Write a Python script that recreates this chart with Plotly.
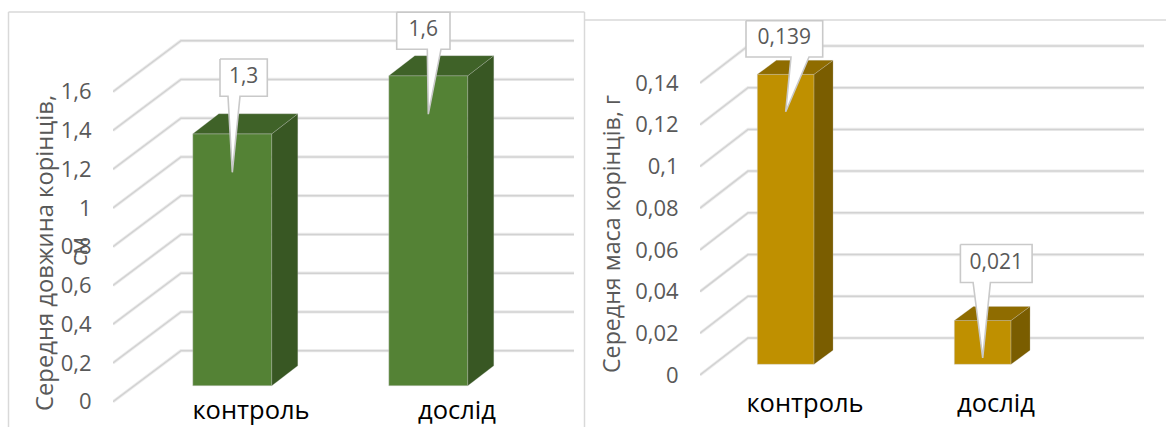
import plotly.graph_objects as go

WIDTH, HEIGHT = 1166, 427

# --- chart values ---
categories_left = ["контроль", "дослід"]
length_values = [1.3, 1.6]
length_labels = ["1,3", "1,6"]
length_ticks = [0, 0.2, 0.4, 0.6, 0.8, 1, 1.2, 1.4, 1.6]
length_ticktext = ["0", "0,2", "0,4", "0,6", "0,8", "1", "1,2", "1,4", "1,6"]

categories_right = ["контроль", "дослід"]
mass_values = [0.139, 0.021]
mass_labels = ["0,139", "0,021"]
mass_ticks = [0, 0.02, 0.04, 0.06, 0.08, 0.1, 0.12, 0.14]
mass_ticktext = ["0", "0,02", "0,04", "0,06", "0,08", "0,1", "0,12", "0,14"]

GREY = "#595959"
FONT = "Open Sans"

# Panel geometry in pixels. Every panel: a value axis whose zero sits at y0,
# a floor receding by (wall_dx, wall_dy), and bars standing part way into it.
LEFT = dict(
    xaxis="x", yaxis="y", x0=113, x1=574, right=574, y0=401.7, yscale=193.75, xscale=196.0, first=232.3,
    wall_dx=68, wall_dy=51, floor_up=16, bar_w=79, depth_dx=26, depth_dy=20,
    front="#548235", side="#385723", top="#3f6228",
    label_y=392.5, label_shift=[18.7, 28.7],
    tip_drop=38.5,
    # box left, box right, box top, box bottom, pointer base left/right: px relative to the tip
    boxes=[dict(l=-12.3, r=35, t=-113.3, b=-76, bl=-4.3, br=7.7),
           dict(l=-31.6, r=21.7, t=-102, b=-65, bl=-1, br=12.7)],
)
RIGHT = dict(
    xaxis="x2", yaxis="y2", x0=700, x1=1144, right=1144, y0=375, yscale=2086.0, xscale=197.0, first=785.7,
    wall_dx=48, wall_dy=37, floor_up=10.7, bar_w=56.7, depth_dx=19, depth_dy=14,
    front="#bf9000", side="#7a5d00", top="#8f6c00",
    label_y=385, label_shift=[19.3, 13.3],
    tip_drop=37.4,
    boxes=[dict(l=-39.7, r=37, t=-91, b=-54.7, bl=5.3, br=23.3),
           dict(l=-22.3, r=49.4, t=-113.4, b=-75.4, bl=-9.6, br=7.7)],
)


def add_panel(fig, panel, cats, values, labels, ticks):
    xs, ys = panel["xscale"], panel["yscale"]
    to_dx = lambda px: px / xs
    to_dy = lambda px: px / ys
    base = to_dy(panel["floor_up"])
    half = to_dx(panel["bar_w"]) / 2
    ddx, ddy = to_dx(panel["depth_dx"]), to_dy(panel["depth_dy"])
    xa, ya = panel["xaxis"], panel["yaxis"]
    centers = list(range(len(values)))

    # Wall and floor gridlines sit underneath the bars
    xfront = to_dx(panel["x0"] - panel["first"])
    xback = to_dx(panel["x0"] + panel["wall_dx"] - panel["first"])
    xend = to_dx(panel["right"] - panel["first"])
    rise = to_dy(panel["wall_dy"])
    for t in ticks:
        path = f"M {xfront} {t} L {xback} {t + rise} L {xend} {t + rise}"
        for colour, w in (("#ececec", 3.2), ("#d2d2d2", 1.5)):
            fig.add_shape(type="path", path=path, xref=xa, yref=ya, layer="below",
                          line=dict(color=colour, width=w))

    # Front faces
    fig.add_trace(go.Bar(x=centers, y=values, base=[base] * len(values), width=to_dx(panel["bar_w"]),
                         marker=dict(color=panel["front"], line=dict(color="rgba(205,205,205,0.4)", width=1)),
                         xaxis=xa, yaxis=ya, showlegend=False, hoverinfo="skip"))

    for c, v in zip(centers, values):
        top_y = base + v
        # Right side face
        fig.add_trace(go.Scatter(
            x=[c + half, c + half + ddx, c + half + ddx, c + half, c + half],
            y=[base, base + ddy, top_y + ddy, top_y, base],
            mode="lines", fill="toself", fillcolor=panel["side"],
            line=dict(color="rgba(200,200,200,0.3)", width=0.8),
            xaxis=xa, yaxis=ya, showlegend=False, hoverinfo="skip"))
        # Top face
        fig.add_trace(go.Scatter(
            x=[c - half, c - half + ddx, c + half + ddx, c + half, c - half],
            y=[top_y, top_y + ddy, top_y + ddy, top_y, top_y],
            mode="lines", fill="toself", fillcolor=panel["top"],
            line=dict(color="rgba(200,200,200,0.3)", width=0.8),
            xaxis=xa, yaxis=ya, showlegend=False, hoverinfo="skip"))

    # Value callouts: a white box with a wedge pointing into the bar
    for c, v, lab, b in zip(centers, values, labels, panel["boxes"]):
        tip_x = c
        tip_y = base + v - to_dy(panel["tip_drop"])
        px = lambda dx: tip_x + to_dx(dx)
        py = lambda dy: tip_y - to_dy(dy)
        fig.add_trace(go.Scatter(
            x=[px(b["l"]), px(b["r"]), px(b["r"]), px(b["br"]), tip_x, px(b["bl"]), px(b["l"]), px(b["l"])],
            y=[py(b["t"]), py(b["t"]), py(b["b"]), py(b["b"]), tip_y, py(b["b"]), py(b["b"]), py(b["t"])],
            mode="lines", fill="toself", fillcolor="#ffffff",
            line=dict(color="#c9c9c9", width=1.6),
            xaxis=xa, yaxis=ya, showlegend=False, hoverinfo="skip"))
        fig.add_trace(go.Scatter(
            x=[px((b["l"] + b["r"]) / 2)], y=[py((b["t"] + b["b"]) / 2)],
            mode="text", text=[lab], textposition="middle center",
            textfont=dict(family=FONT, size=21, color=GREY),
            xaxis=xa, yaxis=ya, showlegend=False, hoverinfo="skip"))


def axis_layout(panel, cats, ticks, ticktext, anchor_x):
    xs, ys = panel["xscale"], panel["yscale"]
    xaxis = dict(
        domain=[panel["x0"] / WIDTH, panel["x1"] / WIDTH],
        range=[(panel["x0"] - panel["first"]) / xs, (panel["x1"] - panel["first"]) / xs],
        anchor="free", position=(HEIGHT - panel["label_y"]) / HEIGHT,
        tickmode="array",
        tickvals=[i + s / xs for i, s in enumerate(panel["label_shift"])],
        ticktext=cats,
        tickfont=dict(family=FONT, size=25.5, color="#000000"),
        showgrid=False, showline=False, zeroline=False, ticks="", fixedrange=True,
        automargin=False,
    )
    yaxis = dict(
        domain=[0, 1],
        range=[(panel["y0"] - HEIGHT) / ys, panel["y0"] / ys],
        anchor=anchor_x,
        tickmode="array", tickvals=ticks, ticktext=ticktext,
        tickfont=dict(family=FONT, size=22, color=GREY),
        ticks="outside", ticklen=16, tickcolor="rgba(0,0,0,0)",
        showgrid=False, showline=False, zeroline=False, fixedrange=True,
        automargin=False,
    )
    return xaxis, yaxis


fig = go.Figure()
add_panel(fig, LEFT, categories_left, length_values, length_labels, length_ticks)
add_panel(fig, RIGHT, categories_right, mass_values, mass_labels, mass_ticks)

xa1, ya1 = axis_layout(LEFT, categories_left, length_ticks, length_ticktext, "x")
xa2, ya2 = axis_layout(RIGHT, categories_right, mass_ticks, mass_ticktext, "x2")

# Chart borders
frame = "#d9d9d9"
for x0, x1, y0, y1 in [(8.5, 584.5, 12, 12), (8.5, 8.5, 12, 427), (584.5, 584.5, 12, 427),
                       (584.5, 1166, 20, 20)]:
    fig.add_shape(type="line", xref="paper", yref="paper",
                  x0=x0 / WIDTH, x1=x1 / WIDTH, y0=1 - y0 / HEIGHT, y1=1 - y1 / HEIGHT,
                  line=dict(color=frame, width=1.5), layer="below")

# Axis titles
for text, x, y, size in [("Середня довжина корінців,", 44, 253, 23.8), ("см", 78, 252, 23.8),
                         ("Середня маса корінців, г", 611, 234, 23.2)]:
    fig.add_annotation(text=text, xref="paper", yref="paper", x=x / WIDTH, y=1 - y / HEIGHT,
                       showarrow=False, textangle=-90,
                       font=dict(family=FONT, size=size, color=GREY),
                       xanchor="center", yanchor="middle")

fig.update_layout(
    width=WIDTH, height=HEIGHT, autosize=False,
    margin=dict(l=0, r=0, t=0, b=0),
    paper_bgcolor="#ffffff", plot_bgcolor="rgba(0,0,0,0)",
    showlegend=False, barmode="overlay",
    xaxis=xa1, yaxis=ya1, xaxis2=xa2, yaxis2=ya2,
)

fig.write_html("out.html", config=dict(displayModeBar=False))
